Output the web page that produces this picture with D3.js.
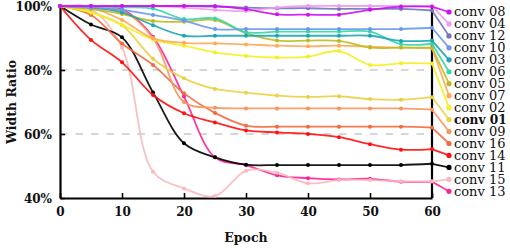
<!DOCTYPE html>
<html>
<head>
<meta charset="utf-8">
<script src="https://cdn.jsdelivr.net/npm/d3@7"></script>
<style>
  body { margin: 0; background: #fff; }
  text { font-family: "DejaVu Serif", serif; fill: #111; }
</style>
</head>
<body>
<div id="chart"></div>
<script>
// epochs sampled every 5
const epochs = [0, 5, 10, 15, 20, 25, 30, 35, 40, 45, 50, 55, 60];

// legend order (top to bottom)
const names = ["conv 08", "conv 04", "conv 12", "conv 10", "conv 03", "conv 06", "conv 05", "conv 07",
               "conv 02", "conv 01", "conv 09", "conv 16", "conv 14", "conv 11", "conv 15", "conv 13"];
const colors = ["#cc11ee", "#f09af0", "#7474bd", "#6a98ea", "#1ba6b2", "#36d6a8", "#bcbc22", "#fdaa58",
                "#f4ef1e", "#ecd043", "#f7955e", "#f36b3e", "#ff1010", "#000000", "#f8baba", "#ff2096"];

const conv08 = [100, 100, 100, 100, 100, 100, 99, 97.4, 97.3, 97.3, 98.8, 99.8, 99.8];
const conv04 = [100, 100, 100, 100, 99.5, 98.8, 98.4, 99.5, 100, 100, 100, 100, 100];
const conv12 = [100, 100, 100, 100, 100, 99.8, 99.5, 99.3, 99.3, 99.1, 99.1, 99.1, 98.6];
const conv10 = [100, 99.5, 98.8, 97.2, 95.4, 92.8, 92.8, 92.8, 92.8, 92.8, 92.8, 92.8, 93.2];
const conv03 = [100, 99.5, 98, 94, 90.7, 90.7, 90.7, 90.7, 90.7, 90.7, 90.7, 89.1, 89.2];
const conv06 = [100, 100, 99.6, 99.2, 95.9, 96.1, 91.8, 92, 92, 92, 92, 88.1, 88.2];
const conv05 = [100, 99, 97.5, 95.3, 95.1, 95.6, 91.5, 89.2, 89.2, 89.1, 87, 87, 87];
const conv07 = [100, 99.5, 95.6, 89.9, 88.5, 88.3, 88, 87.6, 87.4, 87.6, 87.3, 87, 86.8];
const conv02 = [100, 98, 94.1, 89.5, 87.6, 85.5, 84.4, 83.9, 84.2, 85.9, 81.6, 82.1, 82];
const conv01 = [100, 98, 94, 83.5, 77.4, 74.1, 72.9, 72, 71.6, 71.8, 70.9, 70.7, 71.5];
const conv09 = [100, 99.5, 98.5, 90, 70, 68.2, 68, 68, 68, 68, 68, 68, 67.6];
const conv16 = [100, 97.2, 88.3, 81.6, 72.7, 66.6, 62.6, 62.3, 62.3, 62.3, 62.3, 62.3, 62];
const conv14 = [100, 89.4, 82.4, 72.2, 66.5, 63.6, 61.1, 60.5, 60, 59, 56.8, 55.1, 55.3];
const conv11 = [100, 94.2, 90.2, 73, 57.1, 52.7, 50.4, 50.3, 50.3, 50.3, 50.3, 50.3, 50.7];
const conv15 = [100, 99, 87, 48.2, 43, 40.6, 48.5, 47.9, 44.6, 45.6, 45.6, 45.2, 45.2];
const conv13 = [100, 100, 99, 90.4, 71.7, 52.7, 50.3, 47.1, 46.2, 45.8, 46, 45.1, 45.1];

const values = [conv08, conv04, conv12, conv10, conv03, conv06, conv05, conv07,
                conv02, conv01, conv09, conv16, conv14, conv11, conv15, conv13];

const yTicks = [40, 60, 80, 100];
const xTicks = [0, 10, 20, 30, 40, 50, 60];

let W = 510, H = 248;

let svg = d3.select("#chart")
    .append("svg")
    .attr("width", W)
    .attr("height", H);

let x = d3.scaleLinear().domain([0, 60]).range([60, 432]);
let y = d3.scaleLinear().domain([40, 100]).range([198, 6]);
let legendY = d3.scalePoint().domain(names).range([12, 191.3]);
let legendX = 449;

// dashed grid at 60% and 80%
svg.selectAll("line.grid")
    .data([60, 80])
    .join("line")
    .attr("class", "grid")
    .attr("x1", x(0)).attr("x2", x(60))
    .attr("y1", d => y(d)).attr("y2", d => y(d))
    .attr("stroke", "#d6d6d6")
    .attr("stroke-width", 1.8)
    .attr("stroke-dasharray", "7.5,8");

// axes
let xAxis = svg.append("g")
    .attr("transform", "translate(0," + y(40) + ")")
    .call(d3.axisBottom(x).tickValues(xTicks).tickSizeInner(-5).tickSizeOuter(0).tickPadding(12));
let yAxis = svg.append("g")
    .attr("transform", "translate(" + x(0) + ",0)")
    .call(d3.axisLeft(y).tickValues(yTicks).tickFormat(d => d + "%").tickSizeInner(-5).tickSizeOuter(0).tickPadding(8));

[xAxis, yAxis].forEach(g => {
    g.select(".domain").attr("stroke", "#000").attr("stroke-width", 2.2);
    g.selectAll(".tick line").attr("stroke", "#000").attr("stroke-width", 1.6);
    g.selectAll(".tick text")
        .attr("font-family", "DejaVu Serif")
        .attr("font-weight", "bold")
        .attr("font-size", 12)
        .attr("fill", "#111");
});
xAxis.selectAll(".tick text").attr("dy", "0.5em");
yAxis.selectAll(".tick text").attr("dy", "0.35em");

// right vertical line at epoch 60
svg.append("line")
    .attr("x1", x(60)).attr("x2", x(60))
    .attr("y1", y(100)).attr("y2", y(40))
    .attr("stroke", "#000")
    .attr("stroke-width", 2.2);

svg.append("text")
    .attr("x", (x(0) + x(60)) / 2)
    .attr("y", 242)
    .attr("text-anchor", "middle")
    .attr("font-weight", "bold")
    .attr("font-size", 12.5)
    .text("Epoch");

svg.append("text")
    .attr("transform", "translate(16," + ((y(40) + y(100)) / 2) + ") rotate(-90)")
    .attr("text-anchor", "middle")
    .attr("font-weight", "bold")
    .attr("font-size", 12.5)
    .text("Width Ratio");

let line = d3.line()
    .x((d, i) => x(epochs[i]))
    .y(d => y(d))
    .curve(d3.curveCatmullRom.alpha(0.5));

// draw bottom entries first so conv 08 ends up on top
let order = d3.range(names.length).reverse();

order.forEach(i => {
    let c = colors[i];
    let g = svg.append("g");
    let vals = values[i];

    g.append("path")
        .attr("d", line(vals))
        .attr("fill", "none")
        .attr("stroke", c)
        .attr("stroke-width", 1.8)
        .attr("stroke-opacity", 0.9);

    g.selectAll("circle")
        .data(vals)
        .join("circle")
        .attr("cx", (d, j) => x(epochs[j]))
        .attr("cy", d => y(d))
        .attr("r", 2)
        .attr("fill", c);

    // connector to legend
    g.append("line")
        .attr("x1", x(60)).attr("y1", y(vals[vals.length - 1]))
        .attr("x2", legendX).attr("y2", legendY(names[i]))
        .attr("stroke", c)
        .attr("stroke-width", 1.8)
        .attr("stroke-opacity", 0.9);

    g.append("circle")
        .attr("cx", legendX)
        .attr("cy", legendY(names[i]))
        .attr("r", 2.6)
        .attr("fill", c);

    let bold = names[i] === "conv 01";
    g.append("text")
        .attr("x", legendX + 5)
        .attr("y", legendY(names[i]) + 4.3)
        .attr("font-size", bold ? 12.2 : 13)
        .attr("font-weight", bold ? "bold" : "normal")
        .text(names[i]);
});
</script>
</body>
</html>
